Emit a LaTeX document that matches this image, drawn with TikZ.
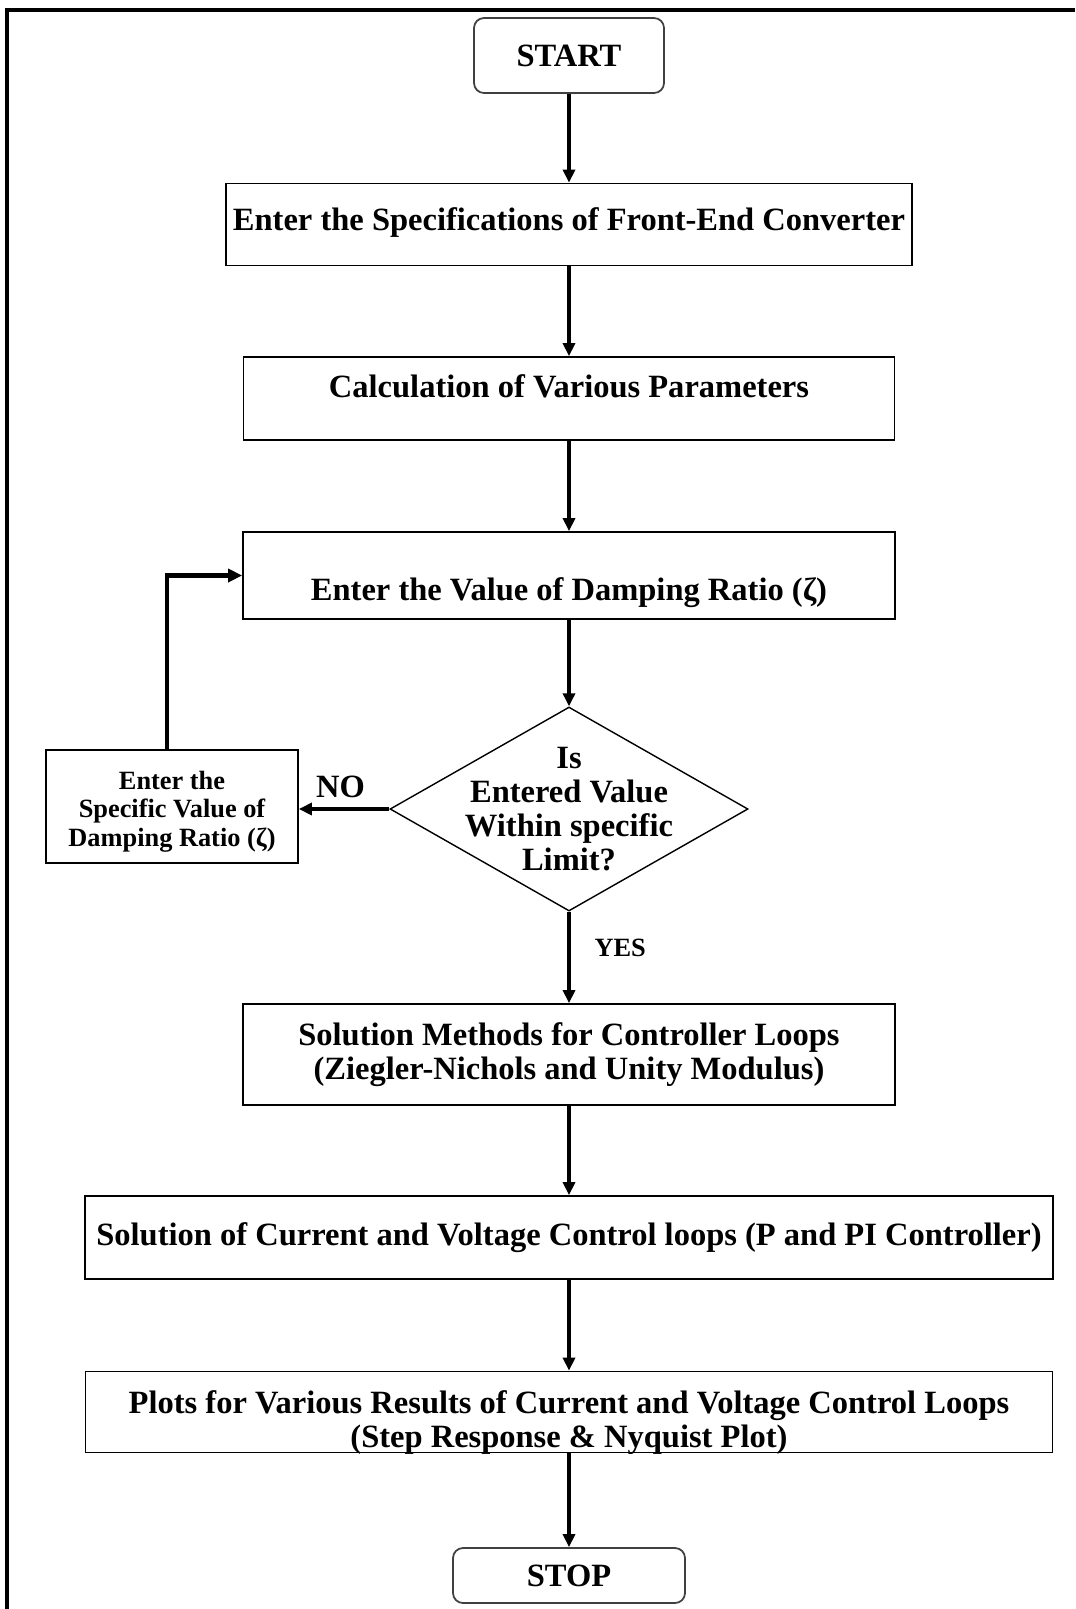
\documentclass[tikz,border=0pt]{standalone}
\usepackage{fontspec}
\setmainfont{Liberation Serif}
\usetikzlibrary{arrows.meta,shapes.geometric,positioning}

\begin{document}
\begin{tikzpicture}[
  every node/.style={font=\bfseries\fontsize{18.5}{19.5}\selectfont},
  terminal/.style={draw=black!75,line width=1pt,rounded corners=0.2cm},
  process/.style={draw,line width=1pt,minimum height=1.66cm,align=center,inner sep=0.1cm},
  decision/.style={diamond,draw,line width=0.8pt,minimum width=7.16cm,minimum height=4.08cm,inner sep=0pt},
  tag/.style={inner sep=0pt},
  flow/.style={-{Triangle[length=0.26cm,width=0.24cm]},line width=2.3pt},
  back/.style={-{Triangle[length=0.28cm,width=0.26cm]},line width=2.8pt}
]
\useasboundingbox (0,0) rectangle (21.5,-32.18);
% page frame
\draw[line width=0.08cm] (21.5,-0.2) -- (0.14,-0.2) -- (0.14,-32.18);

% Blocks
\node[terminal,minimum width=3.8cm,minimum height=1.5cm] (start) at (11.38,-1.11) {START};
\node[process,minimum width=13.72cm,minimum height=1.64cm,text height=0.44cm,text depth=0.21cm] (spec) at (11.38,-4.49) {Enter the Specifications of Front-End Converter};
\node[process,minimum width=13.02cm,text height=0.44cm,text depth=0.49cm] (calc) at (11.38,-7.97) {Calculation of Various Parameters};
\node[process,minimum width=13.04cm,minimum height=1.74cm,text height=1.16cm,text depth=0.15cm] (zeta) at (11.38,-11.51) {Enter the Value of Damping Ratio (ζ)};
\node[decision,label={[align=center]center:Is\\Entered Value\\Within specific\\Limit?}] (check) at (11.38,-16.18) {};
\node[process,minimum width=5.04cm,minimum height=2.26cm,text height=1.69cm,text depth=0.11cm,font=\bfseries\fontsize{15}{16}\selectfont] (limit) at (3.44,-16.13) {Enter the\\Specific Value of\\Damping Ratio (ζ)};
\node[process,minimum width=13.04cm,minimum height=2.02cm] (solve) at (11.38,-21.09) {Solution Methods for Controller Loops\\(Ziegler-Nichols and Unity Modulus)};
\node[process,minimum width=19.36cm] (loops) at (11.38,-24.75) {Solution of Current and Voltage Control loops (P and PI Controller)};
\node[process,minimum width=19.34cm,minimum height=1.62cm,text height=1.41cm,text depth=0cm] (plots) at (11.38,-28.24) {Plots for Various Results of Current and Voltage Control Loops\\(Step Response \& Nyquist Plot)};
\node[terminal,minimum width=4.64cm,minimum height=1.1cm] (stop) at (11.38,-31.51) {STOP};

% Connectors
\draw[flow] (start) -- (spec);
\draw[flow] (spec) -- (calc);
\draw[flow] (calc) -- (zeta);
\draw[flow] (zeta) -- (check);
\draw[flow] (check) -- node[tag,pos=0.4,right=0.47cm,font=\bfseries\fontsize{15}{16}\selectfont] {YES} (solve);
\draw[flow] (check.west) -- node[tag,pos=0.54,above=0.18cm] {NO} (check.west -| limit.east);
\draw[back] ([xshift=-0.1cm]limit.north) |- (zeta.west);
\draw[flow] (solve) -- (loops);
\draw[flow] (loops) -- (plots);
\draw[flow] (plots) -- (stop);
\end{tikzpicture}
\end{document}
